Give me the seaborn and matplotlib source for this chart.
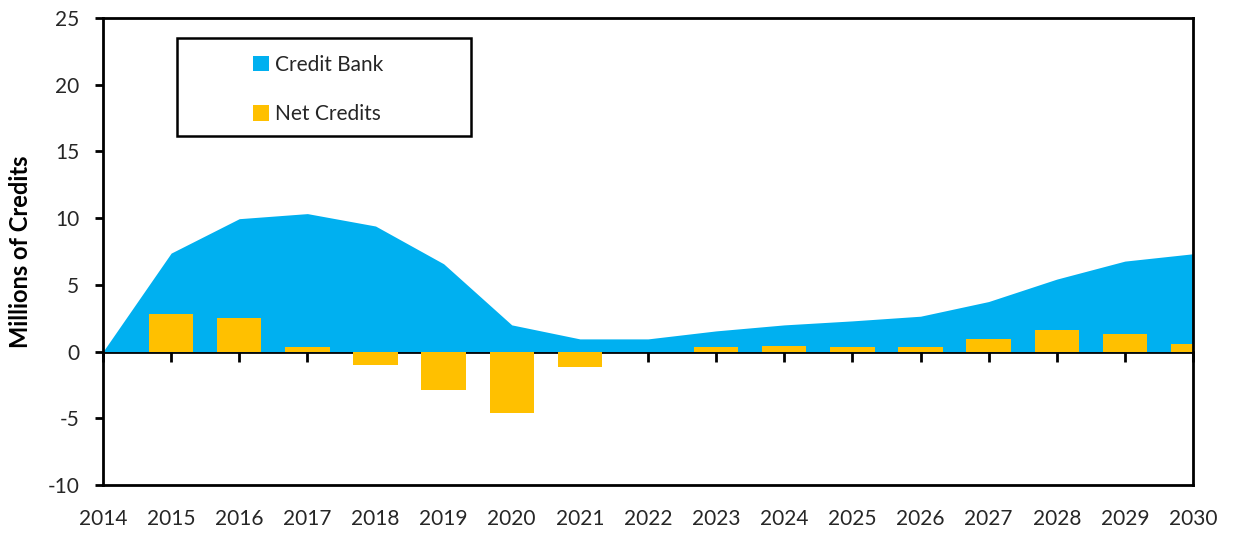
import matplotlib
matplotlib.use("Agg")
import matplotlib.pyplot as plt
from matplotlib.patches import Patch, Rectangle
import seaborn as sns
import pandas as pd
import numpy as np

years = list(range(2014, 2031))
credit_bank = [0.0, 7.38, 9.96, 10.34, 9.41, 6.58, 2.0, 0.95, 0.95, 1.55,
               2.0, 2.3, 2.65, 3.75, 5.43, 6.78, 7.33]
net_credits = [0.0, 2.83, 2.48, 0.38, -0.98, -2.9, -4.6, -1.17, 0.0, 0.38,
               0.45, 0.38, 0.38, 0.95, 1.63, 1.33, 0.55]
y_ticks = [-10, -5, 0, 5, 10, 15, 20, 25]

BLUE = "#00B0F0"
GOLD = "#FFC000"
TEXT = "#262626"

sns.set_theme(style="white")
plt.rcParams["font.family"] = ["Lato", "DejaVu Sans"]
plt.rcParams["axes.unicode_minus"] = False

df = pd.DataFrame({"year": years, "bank": credit_bank, "net": net_credits})

fig = plt.figure(figsize=(12.38, 5.33), dpi=100)
ax = fig.add_axes([103 / 1238, 1 - 485 / 533, 1090 / 1238, 467 / 533])

# Credit bank as a filled area
ax.fill_between(df["year"], 0, df["bank"], color=BLUE, linewidth=0, zorder=1)

# Net credits as bars centred on each year
sns.barplot(data=df, x="year", y="net", native_scale=True, color=GOLD,
            width=0.65, saturation=1, ax=ax, zorder=2, linewidth=0)

ax.set_xlim(2014, 2030)
ax.set_ylim(-10, 25)
ax.set_xticks(years)
ax.set_xticklabels([str(y) for y in years])
ax.set_yticks(y_ticks)
ax.set_xlabel("")
ax.set_ylabel("Millions of Credits", fontsize=17, fontweight="bold", color="black")
ax.yaxis.set_label_coords(-0.065, 0.5)

for s in ax.spines.values():
    s.set_visible(True)
    s.set_color("black")
    s.set_linewidth(2)

ax.tick_params(axis="x", length=0, pad=17, labelsize=15, labelcolor=TEXT)
ax.tick_params(axis="y", direction="out", length=6, width=2, color="black",
               pad=11, labelsize=15, labelcolor=TEXT, left=True)

# Category axis crossing at zero with outward ticks
zero_frac = (0 - (-10)) / 35
sec = ax.secondary_xaxis(zero_frac)
sec.set_xticks(years)
sec.set_xticklabels([])
sec.tick_params(direction="out", length=7, width=2, color="black")
sec.spines["bottom"].set_linewidth(2)
sec.spines["bottom"].set_color("black")
sec.spines["bottom"].set_zorder(3)

# Legend with framed box
frame = Rectangle((74 / 1090, (485 - 136) / 467), 294 / 1090, 98 / 467,
                  transform=ax.transAxes, facecolor="white", edgecolor="black",
                  linewidth=1.8, zorder=4)
ax.add_patch(frame)
handles = [Patch(facecolor=BLUE, edgecolor="none", label="Credit Bank"),
           Patch(facecolor=GOLD, edgecolor="none", label="Net Credits")]
leg = ax.legend(handles=handles, loc="upper left",
                bbox_to_anchor=((253 - 103) / 1090, (485 - 55) / 467),
                frameon=False, fontsize=15, handlelength=0.75, handleheight=0.75,
                handletextpad=0.3, labelspacing=1.4, borderpad=0, borderaxespad=0)
leg.set_zorder(5)
for t in leg.get_texts():
    t.set_color(TEXT)

fig.savefig("out.png", dpi=100)
